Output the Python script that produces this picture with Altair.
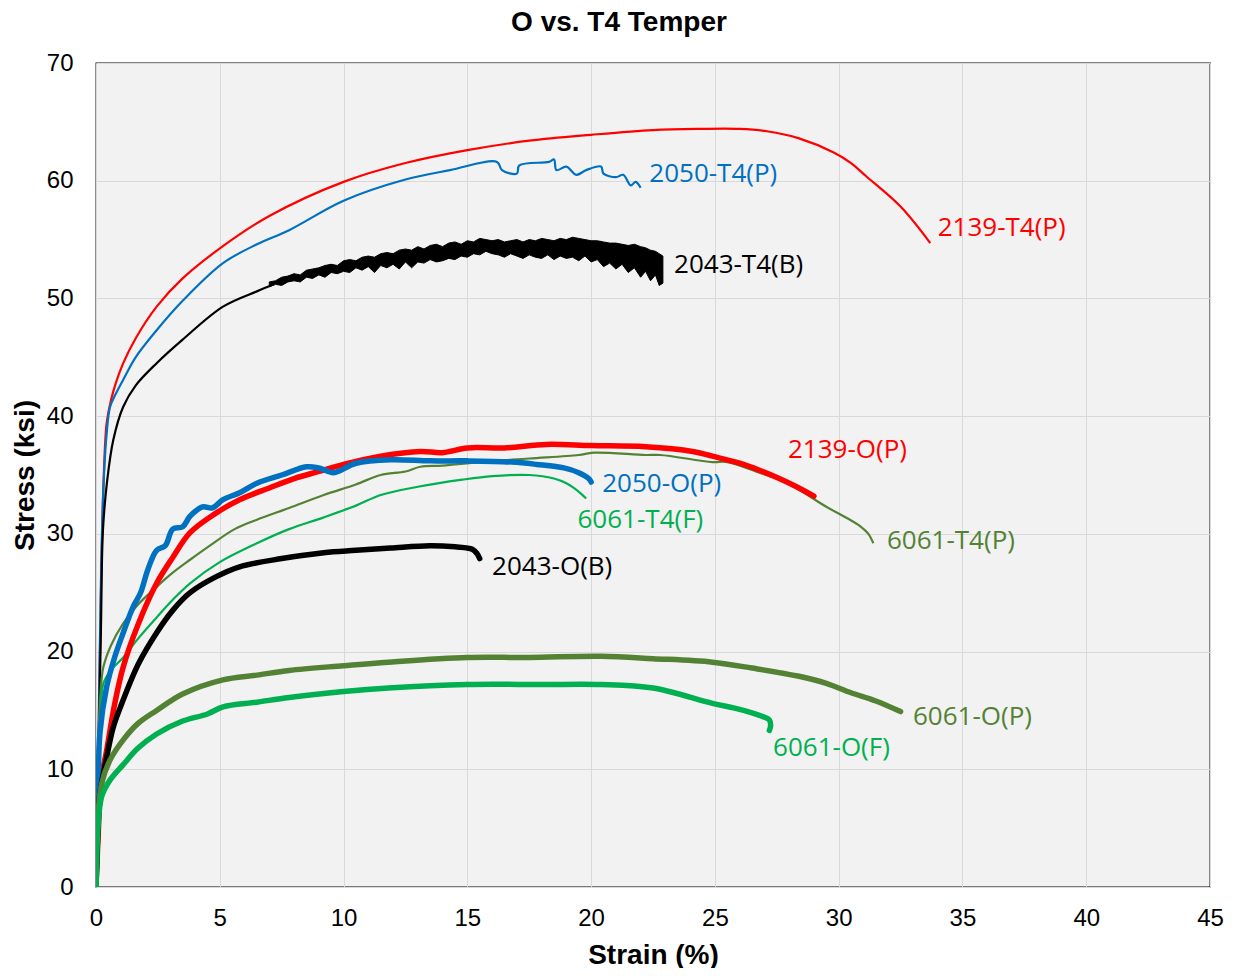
import altair as alt
import pandas as pd

# ---------------- data (strain %, stress ksi) ----------------
s2139_T4_x = [0, 0.1, 0.2, 0.3, 0.43, 0.6, 0.8, 1.1, 1.6, 2.45, 3.5, 5.1, 7.0, 10.0, 12.5, 15.0, 17.5, 20.0, 22.5, 24.4, 26.0, 27.1, 28.4, 29.8, 30.5, 31.1, 32.5, 33.7]
s2139_T4_y = [0, 12, 25, 34, 39.4, 41.3, 42.8, 44.5, 46.6, 49.3, 51.7, 54.4, 57.0, 59.9, 61.5, 62.6, 63.4, 63.9, 64.3, 64.4, 64.4, 64.2, 63.6, 62.4, 61.5, 60.4, 57.8, 54.7]

s2050_T4_x = [0, 0.1, 0.2, 0.3, 0.43, 0.57, 0.8, 1.1, 1.6, 2.45, 3.5, 5.13, 6.5, 7.8, 10.0, 12.5, 14.3, 16.2, 16.4, 17.0, 17.1, 18.3, 18.5, 18.6, 19.0, 19.4, 19.8, 20.4, 20.5, 21.0, 21.3, 21.6, 21.8, 22.0]
s2050_T4_y = [0, 13, 26, 34, 38.5, 40.8, 41.9, 43.1, 45.0, 47.3, 49.8, 53.0, 54.6, 55.8, 58.3, 60.1, 60.9, 61.6, 60.9, 60.6, 61.3, 61.6, 61.8, 60.9, 61.2, 60.5, 60.9, 61.2, 60.6, 60.3, 60.5, 59.6, 59.9, 59.4]

s2043_T4_x = [0, 0.1, 0.2, 0.28, 0.45, 0.7, 1.1, 1.6, 2.45, 3.5, 5.13, 6.5, 7.2]
s2043_T4_y = [0, 11, 22, 30.3, 34.5, 38.0, 40.8, 42.6, 44.5, 46.5, 49.3, 50.6, 51.2]

# noise envelope of the 2043-T4(B) record beyond 7 % strain (strain, lower, upper)
s2043_T4_band_x = [7.0, 7.25, 7.5, 7.75, 8.0, 8.25, 8.5, 8.75, 9.0, 9.25, 9.5, 9.75, 10.0, 10.25, 10.5, 10.75,
                   11.0, 11.25, 11.5, 11.75, 12.0, 12.25, 12.5, 12.75, 13.0, 13.25, 13.5, 13.75, 14.0, 14.25,
                   14.5, 14.75, 15.0, 15.25, 15.5, 15.75, 16.0, 16.25, 16.5, 16.75, 17.0, 17.25, 17.5, 17.75,
                   18.0, 18.25, 18.5, 18.75, 19.0, 19.25, 19.5, 19.75, 20.0, 20.25, 20.5, 20.75, 21.0, 21.25,
                   21.5, 21.75, 22.0, 22.2, 22.4, 22.6, 22.75, 22.9]
s2043_T4_band_lo = [51.0, 51.2, 51.1, 51.4, 51.5, 51.4, 51.8, 51.7, 52.0, 51.8, 52.2, 52.1, 52.3, 52.2, 52.6, 52.4,
                    52.7, 52.2, 52.8, 52.6, 52.9, 52.5, 53.1, 52.6, 53.1, 53.0, 53.3, 53.1, 53.2, 53.4,
                    53.3, 53.6, 53.5, 53.8, 53.7, 54.0, 53.8, 53.7, 53.5, 53.8, 53.6, 53.4, 53.7, 53.5,
                    53.4, 53.7, 53.3, 53.6, 53.4, 53.5, 53.2, 53.6, 53.1, 53.3, 52.7, 53.0, 52.5, 52.9,
                    52.2, 52.6, 51.8, 52.3, 51.5, 52.0, 51.1, 51.3]
s2043_T4_band_hi = [51.4, 51.5, 51.8, 51.9, 52.1, 52.0, 52.4, 52.5, 52.6, 52.8, 52.9, 52.8, 53.2, 53.3, 53.2, 53.5,
                    53.6, 53.5, 53.8, 53.9, 53.8, 54.1, 54.2, 54.1, 54.4, 54.2, 54.5, 54.6, 54.4, 54.7,
                    54.8, 54.6, 54.9, 54.8, 55.1, 55.0, 54.9, 55.0, 54.8, 54.9, 55.0, 54.8, 55.0, 54.9,
                    55.1, 55.0, 54.9, 55.1, 55.0, 55.2, 55.1, 55.0, 54.9, 54.9, 54.8, 54.7, 54.7, 54.6,
                    54.5, 54.6, 54.4, 54.3, 54.1, 54.0, 53.8, 53.6]

s2139_O_x = [0, 0.1, 0.2, 0.43, 0.75, 1.1, 1.7, 2.45, 3.1, 3.8, 4.8, 5.8, 7.0, 8.0, 9.0, 10.0, 11.5, 13.1, 14.0, 15.0, 16.5, 18.2, 20.0, 22.2, 24.1, 24.9, 26.0, 26.8, 27.6, 28.3, 29.0]
s2139_O_y = [0, 5, 9, 11.6, 15.5, 18.7, 22.3, 25.8, 28.0, 30.1, 31.7, 32.9, 33.9, 34.7, 35.3, 35.9, 36.6, 37.0, 36.9, 37.3, 37.3, 37.6, 37.5, 37.4, 37.0, 36.6, 36.0, 35.4, 34.7, 34.0, 33.2]

s2050_O_x = [0, 0.08, 0.16, 0.43, 0.75, 1.1, 1.5, 1.8, 2.1, 2.45, 2.8, 3.1, 3.5, 3.8, 4.3, 4.7, 5.13, 5.8, 6.5, 7.5, 8.5, 9.0, 9.6, 10.5, 11.9, 13.5, 15.0, 16.8, 17.8, 18.9, 19.5, 19.9, 20.0]
s2050_O_y = [0, 8, 13.1, 17.0, 19.5, 21.6, 23.8, 25.0, 27.0, 28.6, 29.0, 30.4, 30.6, 31.5, 32.3, 32.2, 32.9, 33.5, 34.3, 35.0, 35.7, 35.6, 35.2, 36.0, 36.3, 36.2, 36.2, 36.1, 35.9, 35.6, 35.2, 34.7, 34.4]

s6061_T4P_x = [0, 0.05, 0.1, 0.2, 0.3, 0.6, 1.1, 1.7, 2.45, 3.1, 3.8, 4.6, 5.6, 6.5, 7.8, 9.2, 10.5, 11.5, 12.5, 13.1, 14.0, 15.5, 17.5, 19.5, 20.1, 22.2, 22.8, 24.9, 25.5, 26.8, 27.6, 28.2, 29.5, 30.2, 30.9, 31.2, 31.4]
s6061_T4P_y = [0, 8, 13, 17, 18.7, 20.5, 22.4, 24.0, 25.5, 26.7, 27.8, 29.0, 30.4, 31.2, 32.2, 33.3, 34.2, 35.0, 35.3, 35.7, 35.8, 36.1, 36.4, 36.7, 36.9, 36.7, 36.7, 36.1, 36.1, 35.2, 34.6, 34.0, 32.3, 31.5, 30.6, 30.0, 29.2]

s6061_T4F_x = [0, 0.05, 0.1, 0.2, 0.3, 0.6, 1.1, 1.7, 2.45, 3.1, 3.8, 5.0, 6.5, 7.8, 9.2, 10.5, 11.5, 13.0, 14.8, 16.0, 17.5, 18.5, 19.0, 19.3, 19.6, 19.8]
s6061_T4F_y = [0, 7, 11, 15, 17.3, 18.4, 19.5, 21.1, 22.9, 24.4, 25.8, 27.6, 29.2, 30.4, 31.4, 32.4, 33.3, 34.0, 34.6, 34.9, 35.0, 34.7, 34.3, 33.9, 33.4, 33.0]

s2043_O_x = [0, 0.08, 0.16, 0.43, 0.7, 1.1, 1.7, 2.45, 3.1, 3.8, 4.8, 5.8, 7.5, 9.2, 10.5, 11.9, 13.5, 14.5, 15.2, 15.4, 15.5]
s2043_O_y = [0, 5, 8, 11.0, 13.6, 15.9, 18.9, 21.6, 23.5, 25.0, 26.3, 27.2, 27.9, 28.4, 28.6, 28.8, 29.0, 28.9, 28.7, 28.3, 27.9]

s6061_OP_x = [0, 0.08, 0.23, 0.57, 1.1, 1.7, 2.45, 3.5, 5.13, 6.5, 7.8, 10.0, 11.8, 15.0, 17.5, 20.4, 22.5, 24.9, 26.5, 28.4, 29.5, 30.5, 31.5, 32.5]
s6061_OP_y = [0, 6, 8.8, 10.8, 12.5, 13.9, 15.0, 16.4, 17.6, 18.0, 18.4, 18.8, 19.1, 19.5, 19.5, 19.6, 19.4, 19.1, 18.6, 17.9, 17.3, 16.5, 15.8, 14.9]

s6061_OF_x = [0, 0.08, 0.23, 0.57, 1.1, 1.7, 2.45, 3.5, 4.5, 5.13, 6.5, 7.8, 10.0, 11.8, 15.0, 18.0, 20.4, 22.5, 24.9, 25.8, 26.5, 26.9, 27.2, 27.25, 27.2]
s6061_OF_y = [0, 5, 7.7, 9.1, 10.4, 11.8, 13.0, 14.1, 14.7, 15.3, 15.7, 16.1, 16.6, 16.9, 17.2, 17.2, 17.2, 16.9, 15.6, 15.2, 14.8, 14.5, 14.2, 13.7, 13.3]

series_names = ["2139-T4(P)", "2050-T4(P)", "2043-T4(B)", "6061-T4(P)", "6061-T4(F)",
                "2139-O(P)", "2050-O(P)", "2043-O(B)", "6061-O(P)", "6061-O(F)"]
series_colors = ["#FF0000", "#0070C0", "#000000", "#548235", "#00B050",
                 "#FF0000", "#0070C0", "#000000", "#548235", "#00B050"]
series_thick = [False, False, False, False, False, True, True, True, True, True]
series_x = [s2139_T4_x, s2050_T4_x, s2043_T4_x, s6061_T4P_x, s6061_T4F_x,
            s2139_O_x, s2050_O_x, s2043_O_x, s6061_OP_x, s6061_OF_x]
series_y = [s2139_T4_y, s2050_T4_y, s2043_T4_y, s6061_T4P_y, s6061_T4F_y,
            s2139_O_y, s2050_O_y, s2043_O_y, s6061_OP_y, s6061_OF_y]

# label positions (strain, stress) of left edge of each annotation
label_x = [34.0, 22.35, 23.35, 31.95, 19.45, 27.95, 20.45, 16.0, 33.0, 27.35]
label_y = [56.0, 60.6, 52.8, 29.4, 31.2, 37.1, 34.2, 27.2, 14.4, 11.8]

rows = []
for name, xs, ys, thick in zip(series_names, series_x, series_y, series_thick):
    for i, (a, b) in enumerate(zip(xs, ys)):
        rows.append({"series": name, "strain": a, "stress": b, "i": i, "thick": thick})
df = pd.DataFrame(rows)

band = pd.DataFrame({"series": "2043-T4(B)", "strain": s2043_T4_band_x,
                     "lo": s2043_T4_band_lo, "hi": s2043_T4_band_hi})
lab = pd.DataFrame({"series": series_names, "strain": label_x, "stress": label_y})

color_scale = alt.Scale(domain=series_names, range=series_colors)
x_scale = alt.Scale(domain=[0, 45], nice=False)
y_scale = alt.Scale(domain=[0, 70], nice=False)
x_enc = alt.X("strain:Q", scale=x_scale,
              axis=alt.Axis(values=list(range(0, 46, 5)), title="Strain (%)",
                            grid=True, gridColor="#D9D9D9", ticks=False, domain=False,
                            labelFlush=False,
                            labelFontSize=24, labelFont="Liberation Sans", labelColor="#000000",
                            labelPadding=19,
                            titleFontSize=28, titleFont="Liberation Sans", titleFontWeight="bold",
                            titleColor="#000000", titleX=557, titleY=68, titleBaseline="middle"))
y_enc = alt.Y("stress:Q", scale=y_scale,
              axis=alt.Axis(values=list(range(0, 71, 10)), title="Stress (ksi)",
                            grid=True, gridColor="#D9D9D9", ticks=False, domain=False,
                            labelFlush=False,
                            labelFontSize=24, labelFont="Liberation Sans", labelColor="#000000",
                            labelPadding=23,
                            titleFontSize=28, titleFont="Liberation Sans", titleFontWeight="bold",
                            titleColor="#000000", titleX=-71, titleY=412, titleAngle=-90,
                            titleAlign="center", titleBaseline="middle"))

color_enc = alt.Color("series:N", scale=color_scale, legend=None)
base = alt.Chart(df)
thin = base.transform_filter(alt.datum.thick == False).mark_line(
    strokeWidth=2.2, clip=True, interpolate="catmull-rom", strokeJoin="round").encode(
    x=x_enc, y=y_enc, color=color_enc, order=alt.Order("i:Q"),
)
noise = alt.Chart(band).mark_area(
    clip=True, interpolate="linear", stroke="#000000", strokeWidth=1.0, fillOpacity=1).encode(
    x=alt.X("strain:Q", scale=x_scale),
    y=alt.Y("lo:Q", scale=y_scale),
    y2="hi:Q",
    color=color_enc,
)
thick = base.transform_filter(alt.datum.thick == True).mark_line(
    strokeWidth=5.5, clip=True, strokeJoin="round", strokeCap="round", interpolate="catmull-rom").encode(
    x=x_enc, y=y_enc, color=color_enc, order=alt.Order("i:Q"),
)
labels = alt.Chart(lab).mark_text(align="left", baseline="middle", fontSize=26, font="Open Sans").encode(
    x="strain:Q", y="stress:Q",
    text="series:N",
    color=color_enc,
)

chart = alt.layer(thin, noise, thick, labels).properties(
    width=1114, height=824,
    title=alt.TitleParams("O vs. T4 Temper", fontSize=28, font="Liberation Sans", fontWeight="bold",
                          color="#000000", anchor="middle", offset=14, dx=-34),
    autosize=alt.AutoSizeParams(type="none"),
    padding={"left": 88, "top": 55, "right": 19, "bottom": 81},
    background="#FFFFFF",
).configure_view(
    fill="#F2F2F2", stroke="#000000", strokeWidth=1.3,
)

chart.save("out.html", embed_options={"renderer": "svg", "actions": False})
